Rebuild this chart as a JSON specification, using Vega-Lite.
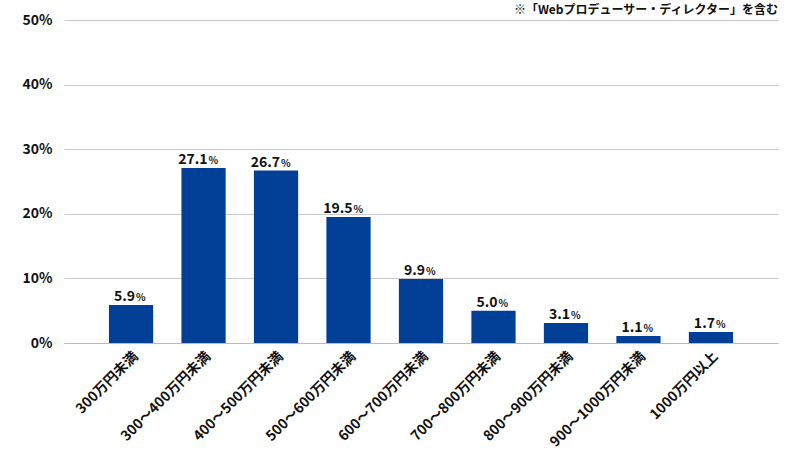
{
  "$schema": "https://vega.github.io/schema/vega-lite/v6.json",
  "width": 714,
  "height": 323,
  "autosize": "none",
  "padding": {"left": 64, "top": 20, "right": 22, "bottom": 107},
  "background": "white",
  "config": {
    "font": "Noto Sans CJK JP",
    "view": {"stroke": null}
  },
  "title": {
    "text": "※「Webプロデューサー・ディレクター」を含む",
    "anchor": "end",
    "fontSize": 12,
    "fontWeight": "bold",
    "color": "#111",
    "offset": 4,
    "dy": 8,
    "font": "Noto Sans CJK JP"
  },
  "data": {
    "values": [
      {"cat": "300万円未満", "v": 5.9, "lab": "5.9"},
      {"cat": "300～400万円未満", "v": 27.1, "lab": "27.1"},
      {"cat": "400～500万円未満", "v": 26.7, "lab": "26.7"},
      {"cat": "500～600万円未満", "v": 19.5, "lab": "19.5"},
      {"cat": "600～700万円未満", "v": 9.9, "lab": "9.9"},
      {"cat": "700～800万円未満", "v": 5.0, "lab": "5.0"},
      {"cat": "800～900万円未満", "v": 3.1, "lab": "3.1"},
      {"cat": "900～1000万円未満", "v": 1.1, "lab": "1.1"},
      {"cat": "1000万円以上", "v": 1.7, "lab": "1.7"}
    ]
  },
  "encoding": {
    "x": {
      "field": "cat",
      "type": "nominal",
      "sort": null,
      "scale": {"paddingInner": 0.39, "paddingOuter": 0.62},
      "axis": {
        "title": null,
        "labelAngle": -45,
        "labelFontSize": 14,
        "labelFontWeight": "bold",
        "labelColor": "#111",
        "labelPadding": 6,
        "ticks": false,
        "domain": true,
        "domainColor": "#bbb",
        "labelLimit": 200
      }
    },
    "y": {
      "field": "v",
      "type": "quantitative",
      "scale": {"domain": [0, 50]},
      "axis": {
        "title": null,
        "values": [0, 10, 20, 30, 40, 50],
        "labelExpr": "datum.value + '%'",
        "labelFontSize": 14,
        "labelFontWeight": "bold",
        "labelColor": "#111",
        "labelPadding": 12,
        "ticks": false,
        "domain": false,
        "gridColor": "#c8c8c8",
        "gridWidth": 1
      }
    }
  },
  "layer": [
    {"mark": {"type": "bar", "color": "#023F97"}},
    {
      "mark": {"type": "text", "align": "right", "baseline": "bottom", "dx": 4, "dy": -1, "fontSize": 14, "fontWeight": "bold", "color": "#111"},
      "encoding": {"text": {"field": "lab"}}
    },
    {
      "mark": {"type": "text", "align": "left", "baseline": "bottom", "dx": 5, "dy": -2, "fontSize": 10, "fontWeight": "bold", "color": "#111"},
      "encoding": {"text": {"value": "%"}}
    }
  ]
}
